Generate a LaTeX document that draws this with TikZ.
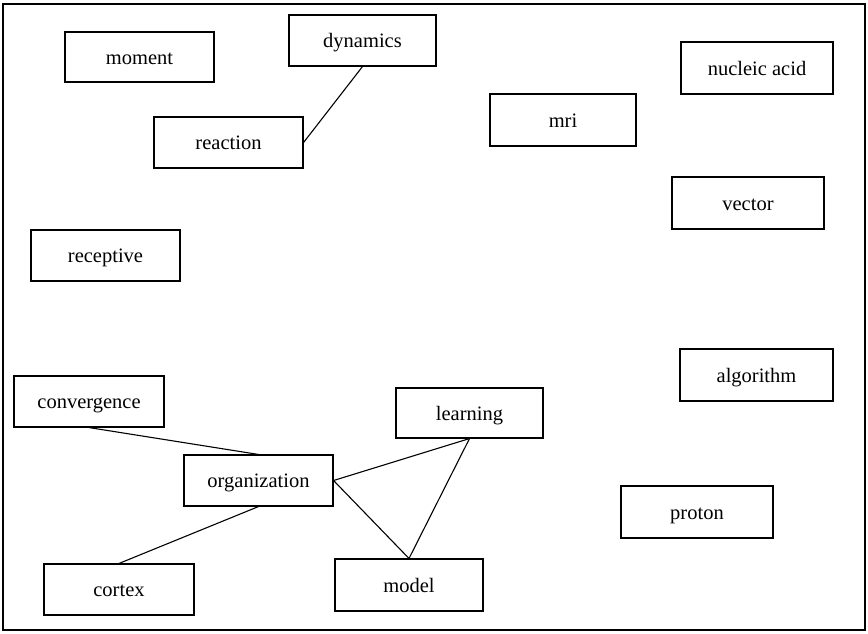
\documentclass[tikz,border=0pt]{standalone}
\usepackage{fontspec}
\setmainfont{Liberation Serif}
\begin{document}
\begin{tikzpicture}[x=1pt,y=-1pt,
  term/.style={draw, line width=1.1pt, inner sep=0pt, text height=14pt, text depth=0pt, font=\fontsize{20.5}{22}\selectfont},
  link/.style={line width=1.1pt}]
\useasboundingbox (0,0) rectangle (868,633);
\draw[line width=1.1pt] (3,4) rectangle (865,630);
\newcommand{\term}[6]{\node[term, minimum width=#4-#3, minimum height=#6-#5] (#1) at ({(#3+#4)/2},{(#5+#6)/2}) {#2};}
\term{moment}{moment}{65}{214}{32}{82}
\term{dynamics}{dynamics}{289}{436}{15}{66}
\term{reaction}{reaction}{154}{303}{117}{168}
\term{nucleic}{nucleic acid}{681}{833}{42}{94}
\term{mri}{mri}{490}{636}{94}{146}
\term{vector}{vector}{672}{824}{177}{229}
\term{receptive}{receptive}{31}{180}{230}{281}
\term{algorithm}{algorithm}{680}{833}{349}{401}
\term{proton}{proton}{621}{773}{486}{538}
\term{convergence}{convergence}{14}{164}{376}{427}
\term{learning}{learning}{396}{543}{388}{438}
\term{organization}{organization}{184}{333}{455}{506}
\term{cortex}{cortex}{44}{194}{564}{615}
\term{model}{model}{335}{483}{559}{611}
\draw[link] (dynamics.south) -- (reaction.east);
\draw[link] (convergence.south) -- (organization.north);
\draw[link] (organization.south) -- (cortex.north);
\draw[link] (organization.east) -- (learning.south);
\draw[link] (organization.east) -- (model.north);
\draw[link] (learning.south) -- (model.north);
\end{tikzpicture}
\end{document}
